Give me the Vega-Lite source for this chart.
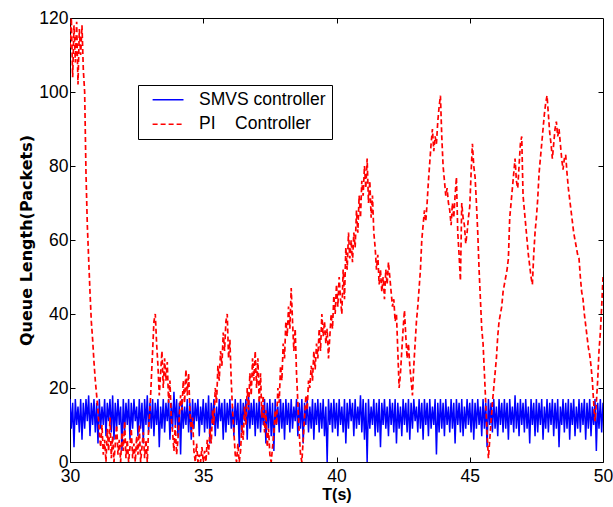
{
"$schema":"https://vega.github.io/schema/vega-lite/v6.json",
"width":533,"height":444,
"autosize":{"type":"none"},
"padding":{"left":70,"top":18,"right":10,"bottom":45},
"background":"#ffffff",
"config":{"view":{"stroke":"#000000","strokeWidth":1},"font":"Liberation Sans"},
"data":{"values":[
{"t":30,"s":17,"p":112},{"t":30.05,"s":9,"p":120},{"t":30.1,"s":16,"p":104},{"t":30.15,"s":4,"p":118},{"t":30.2,"s":17,"p":108},{"t":30.25,"s":10,"p":119},{"t":30.3,"s":15,"p":102},{"t":30.35,"s":8,"p":117},{"t":30.4,"s":17,"p":110},{"t":30.45,"s":6,"p":118},
{"t":30.5,"s":16,"p":106},{"t":30.55,"s":9,"p":100},{"t":30.6,"s":17,"p":78},{"t":30.65,"s":11,"p":64},{"t":30.7,"s":18,"p":55},{"t":30.75,"s":7,"p":46},{"t":30.8,"s":16,"p":38},{"t":30.85,"s":10,"p":33},{"t":30.9,"s":17,"p":27},{"t":30.95,"s":8,"p":22},
{"t":31,"s":16,"p":18},{"t":31.05,"s":5,"p":14},{"t":31.1,"s":17,"p":8},{"t":31.15,"s":9,"p":4},{"t":31.2,"s":15,"p":10},{"t":31.25,"s":10,"p":2},{"t":31.3,"s":17,"p":6},{"t":31.35,"s":7,"p":0},{"t":31.4,"s":16,"p":9},{"t":31.45,"s":11,"p":3},
{"t":31.5,"s":17,"p":12},{"t":31.55,"s":8,"p":1},{"t":31.6,"s":18,"p":7},{"t":31.65,"s":6,"p":0},{"t":31.7,"s":16,"p":5},{"t":31.75,"s":9,"p":10},{"t":31.8,"s":17,"p":2},{"t":31.85,"s":10,"p":6},{"t":31.9,"s":15,"p":0},{"t":31.95,"s":3,"p":8},
{"t":32,"s":17,"p":3},{"t":32.05,"s":8,"p":11},{"t":32.1,"s":16,"p":1},{"t":32.15,"s":10,"p":6},{"t":32.2,"s":17,"p":0},{"t":32.25,"s":6,"p":4},{"t":32.3,"s":16,"p":9},{"t":32.35,"s":9,"p":1},{"t":32.4,"s":17,"p":5},{"t":32.45,"s":11,"p":0},
{"t":32.5,"s":15,"p":7},{"t":32.55,"s":7,"p":2},{"t":32.6,"s":17,"p":10},{"t":32.65,"s":9,"p":0},{"t":32.7,"s":16,"p":4},{"t":32.75,"s":5,"p":8},{"t":32.8,"s":17,"p":1},{"t":32.85,"s":10,"p":6},{"t":32.9,"s":18,"p":0},{"t":32.95,"s":8,"p":9},
{"t":33,"s":16,"p":14},{"t":33.05,"s":9,"p":22},{"t":33.1,"s":17,"p":30},{"t":33.15,"s":7,"p":38},{"t":33.2,"s":16,"p":40},{"t":33.25,"s":10,"p":32},{"t":33.3,"s":17,"p":26},{"t":33.35,"s":4,"p":18},{"t":33.4,"s":15,"p":24},{"t":33.45,"s":9,"p":30},
{"t":33.5,"s":17,"p":20},{"t":33.55,"s":8,"p":28},{"t":33.6,"s":16,"p":22},{"t":33.65,"s":11,"p":27},{"t":33.7,"s":17,"p":16},{"t":33.75,"s":6,"p":22},{"t":33.8,"s":16,"p":12},{"t":33.85,"s":9,"p":8},{"t":33.9,"s":19,"p":3},{"t":33.95,"s":10,"p":10},
{"t":34,"s":17,"p":2},{"t":34.05,"s":7,"p":6},{"t":34.1,"s":16,"p":12},{"t":34.15,"s":2,"p":18},{"t":34.2,"s":17,"p":14},{"t":34.25,"s":9,"p":22},{"t":34.3,"s":15,"p":16},{"t":34.35,"s":10,"p":25},{"t":34.4,"s":17,"p":18},{"t":34.45,"s":8,"p":24},
{"t":34.5,"s":16,"p":14},{"t":34.55,"s":6,"p":8},{"t":34.6,"s":17,"p":12},{"t":34.65,"s":9,"p":3},{"t":34.7,"s":16,"p":0},{"t":34.75,"s":11,"p":5},{"t":34.8,"s":17,"p":0},{"t":34.85,"s":7,"p":2},{"t":34.9,"s":15,"p":0},{"t":34.95,"s":10,"p":4},
{"t":35,"s":17,"p":0},{"t":35.05,"s":8,"p":3},{"t":35.1,"s":16,"p":0},{"t":35.15,"s":9,"p":6},{"t":35.2,"s":18,"p":2},{"t":35.25,"s":5,"p":9},{"t":35.3,"s":16,"p":5},{"t":35.35,"s":10,"p":14},{"t":35.4,"s":17,"p":10},{"t":35.45,"s":7,"p":20},
{"t":35.5,"s":15,"p":16},{"t":35.55,"s":9,"p":26},{"t":35.6,"s":17,"p":22},{"t":35.65,"s":11,"p":30},{"t":35.7,"s":16,"p":26},{"t":35.75,"s":6,"p":35},{"t":35.8,"s":17,"p":30},{"t":35.85,"s":8,"p":38},{"t":35.9,"s":16,"p":40},{"t":35.95,"s":10,"p":28},
{"t":36,"s":17,"p":33},{"t":36.05,"s":9,"p":22},{"t":36.1,"s":15,"p":14},{"t":36.15,"s":7,"p":8},{"t":36.2,"s":17,"p":2},{"t":36.25,"s":10,"p":0},{"t":36.3,"s":16,"p":5},{"t":36.35,"s":4,"p":0},{"t":36.4,"s":17,"p":3},{"t":36.45,"s":8,"p":10},
{"t":36.5,"s":16,"p":6},{"t":36.55,"s":11,"p":15},{"t":36.6,"s":17,"p":10},{"t":36.65,"s":6,"p":20},{"t":36.7,"s":18,"p":14},{"t":36.75,"s":9,"p":24},{"t":36.8,"s":16,"p":18},{"t":36.85,"s":10,"p":28},{"t":36.9,"s":17,"p":22},{"t":36.95,"s":7,"p":30},
{"t":37,"s":16,"p":20},{"t":37.05,"s":9,"p":28},{"t":37.1,"s":17,"p":16},{"t":37.15,"s":8,"p":24},{"t":37.2,"s":15,"p":12},{"t":37.25,"s":10,"p":18},{"t":37.3,"s":17,"p":8},{"t":37.35,"s":5,"p":14},{"t":37.4,"s":16,"p":4},{"t":37.45,"s":9,"p":9},
{"t":37.5,"s":17,"p":2},{"t":37.55,"s":7,"p":0},{"t":37.6,"s":16,"p":4},{"t":37.65,"s":3,"p":8},{"t":37.7,"s":17,"p":14},{"t":37.75,"s":10,"p":10},{"t":37.8,"s":15,"p":20},{"t":37.85,"s":8,"p":16},{"t":37.9,"s":17,"p":26},{"t":37.95,"s":9,"p":22},
{"t":38,"s":16,"p":32},{"t":38.05,"s":6,"p":28},{"t":38.1,"s":17,"p":38},{"t":38.15,"s":10,"p":34},{"t":38.2,"s":16,"p":42},{"t":38.25,"s":8,"p":36},{"t":38.3,"s":17,"p":47},{"t":38.35,"s":9,"p":38},{"t":38.4,"s":15,"p":30},{"t":38.45,"s":11,"p":36},
{"t":38.5,"s":17,"p":24},{"t":38.55,"s":7,"p":16},{"t":38.6,"s":16,"p":8},{"t":38.65,"s":9,"p":2},{"t":38.7,"s":17,"p":0},{"t":38.75,"s":5,"p":6},{"t":38.8,"s":16,"p":12},{"t":38.85,"s":10,"p":18},{"t":38.9,"s":17,"p":14},{"t":38.95,"s":8,"p":22},
{"t":39,"s":15,"p":20},{"t":39.05,"s":9,"p":26},{"t":39.1,"s":17,"p":22},{"t":39.15,"s":6,"p":30},{"t":39.2,"s":16,"p":25},{"t":39.25,"s":10,"p":32},{"t":39.3,"s":17,"p":28},{"t":39.35,"s":8,"p":36},{"t":39.4,"s":16,"p":30},{"t":39.45,"s":9,"p":40},
{"t":39.5,"s":17,"p":34},{"t":39.55,"s":7,"p":38},{"t":39.6,"s":15,"p":32},{"t":39.65,"s":0,"p":36},{"t":39.7,"s":17,"p":28},{"t":39.75,"s":10,"p":34},{"t":39.8,"s":16,"p":40},{"t":39.85,"s":8,"p":36},{"t":39.9,"s":17,"p":45},{"t":39.95,"s":9,"p":40},
{"t":40,"s":16,"p":48},{"t":40.05,"s":7,"p":42},{"t":40.1,"s":17,"p":50},{"t":40.15,"s":10,"p":44},{"t":40.2,"s":15,"p":40},{"t":40.25,"s":8,"p":52},{"t":40.3,"s":17,"p":44},{"t":40.35,"s":5,"p":58},{"t":40.4,"s":16,"p":52},{"t":40.45,"s":9,"p":62},
{"t":40.5,"s":17,"p":55},{"t":40.55,"s":11,"p":60},{"t":40.6,"s":16,"p":54},{"t":40.65,"s":7,"p":62},{"t":40.7,"s":17,"p":58},{"t":40.75,"s":9,"p":68},{"t":40.8,"s":15,"p":62},{"t":40.85,"s":10,"p":72},{"t":40.9,"s":18,"p":66},{"t":40.95,"s":8,"p":76},
{"t":41,"s":17,"p":72},{"t":41.05,"s":6,"p":80},{"t":41.1,"s":16,"p":74},{"t":41.15,"s":0,"p":82},{"t":41.2,"s":17,"p":70},{"t":41.25,"s":9,"p":76},{"t":41.3,"s":15,"p":66},{"t":41.35,"s":10,"p":72},{"t":41.4,"s":17,"p":62},{"t":41.45,"s":7,"p":58},
{"t":41.5,"s":16,"p":52},{"t":41.55,"s":8,"p":56},{"t":41.6,"s":17,"p":48},{"t":41.65,"s":4,"p":52},{"t":41.7,"s":16,"p":46},{"t":41.75,"s":10,"p":50},{"t":41.8,"s":17,"p":44},{"t":41.85,"s":9,"p":52},{"t":41.9,"s":15,"p":48},{"t":41.95,"s":7,"p":54},
{"t":42,"s":17,"p":50},{"t":42.05,"s":10,"p":46},{"t":42.1,"s":16,"p":42},{"t":42.15,"s":8,"p":44},{"t":42.2,"s":17,"p":38},{"t":42.25,"s":5,"p":40},{"t":42.3,"s":16,"p":30},{"t":42.35,"s":9,"p":20},{"t":42.4,"s":15,"p":24},{"t":42.45,"s":7,"p":30},
{"t":42.5,"s":17,"p":36},{"t":42.55,"s":10,"p":41},{"t":42.6,"s":16,"p":34},{"t":42.65,"s":8,"p":28},{"t":42.7,"s":17,"p":32},{"t":42.75,"s":6,"p":26},{"t":42.8,"s":16,"p":22},{"t":42.85,"s":9,"p":18},{"t":42.9,"s":17,"p":26},{"t":42.95,"s":11,"p":32},
{"t":43,"s":15,"p":38},{"t":43.05,"s":8,"p":42},{"t":43.1,"s":17,"p":47},{"t":43.15,"s":9,"p":52},{"t":43.2,"s":16,"p":60},{"t":43.25,"s":6,"p":64},{"t":43.3,"s":17,"p":68},{"t":43.35,"s":10,"p":65},{"t":43.4,"s":16,"p":70},{"t":43.45,"s":7,"p":76},
{"t":43.5,"s":17,"p":81},{"t":43.55,"s":9,"p":86},{"t":43.6,"s":15,"p":90},{"t":43.65,"s":10,"p":84},{"t":43.7,"s":17,"p":88},{"t":43.75,"s":2,"p":86},{"t":43.8,"s":16,"p":92},{"t":43.85,"s":8,"p":96},{"t":43.9,"s":17,"p":99},{"t":43.95,"s":9,"p":88},
{"t":44,"s":16,"p":80},{"t":44.05,"s":7,"p":76},{"t":44.1,"s":17,"p":72},{"t":44.15,"s":10,"p":74},{"t":44.2,"s":15,"p":70},{"t":44.25,"s":8,"p":68},{"t":44.3,"s":17,"p":64},{"t":44.35,"s":9,"p":70},{"t":44.4,"s":16,"p":66},{"t":44.45,"s":5,"p":72},
{"t":44.5,"s":17,"p":77},{"t":44.55,"s":10,"p":62},{"t":44.6,"s":16,"p":56},{"t":44.65,"s":8,"p":49},{"t":44.7,"s":17,"p":70},{"t":44.75,"s":7,"p":66},{"t":44.8,"s":15,"p":64},{"t":44.85,"s":9,"p":59},{"t":44.9,"s":17,"p":62},{"t":44.95,"s":10,"p":66},
{"t":45,"s":16,"p":69},{"t":45.05,"s":8,"p":78},{"t":45.1,"s":17,"p":86},{"t":45.15,"s":6,"p":80},{"t":45.2,"s":16,"p":77},{"t":45.25,"s":9,"p":70},{"t":45.3,"s":17,"p":62},{"t":45.35,"s":10,"p":52},{"t":45.4,"s":15,"p":44},{"t":45.45,"s":7,"p":36},
{"t":45.5,"s":17,"p":32},{"t":45.55,"s":9,"p":24},{"t":45.6,"s":16,"p":16},{"t":45.65,"s":4,"p":8},{"t":45.7,"s":17,"p":1},{"t":45.75,"s":10,"p":6},{"t":45.8,"s":16,"p":11},{"t":45.85,"s":8,"p":16},{"t":45.9,"s":17,"p":20},{"t":45.95,"s":9,"p":24},
{"t":46,"s":15,"p":28},{"t":46.05,"s":7,"p":34},{"t":46.1,"s":17,"p":38},{"t":46.15,"s":10,"p":40},{"t":46.2,"s":16,"p":42},{"t":46.25,"s":8,"p":46},{"t":46.3,"s":17,"p":48},{"t":46.35,"s":9,"p":50},{"t":46.4,"s":16,"p":52},{"t":46.45,"s":6,"p":55},
{"t":46.5,"s":17,"p":66},{"t":46.55,"s":10,"p":70},{"t":46.6,"s":15,"p":74},{"t":46.65,"s":8,"p":78},{"t":46.7,"s":18,"p":82},{"t":46.75,"s":9,"p":76},{"t":46.8,"s":16,"p":74},{"t":46.85,"s":7,"p":80},{"t":46.9,"s":17,"p":86},{"t":46.95,"s":10,"p":88},
{"t":47,"s":16,"p":72},{"t":47.05,"s":8,"p":68},{"t":47.1,"s":17,"p":64},{"t":47.15,"s":9,"p":60},{"t":47.2,"s":15,"p":56},{"t":47.25,"s":5,"p":53},{"t":47.3,"s":17,"p":50},{"t":47.35,"s":10,"p":48},{"t":47.4,"s":16,"p":56},{"t":47.45,"s":7,"p":62},
{"t":47.5,"s":17,"p":66},{"t":47.55,"s":8,"p":71},{"t":47.6,"s":16,"p":78},{"t":47.65,"s":10,"p":82},{"t":47.7,"s":17,"p":86},{"t":47.75,"s":6,"p":90},{"t":47.8,"s":15,"p":94},{"t":47.85,"s":9,"p":97},{"t":47.9,"s":17,"p":99},{"t":47.95,"s":8,"p":94},
{"t":48,"s":16,"p":89},{"t":48.05,"s":10,"p":86},{"t":48.1,"s":17,"p":82},{"t":48.15,"s":7,"p":86},{"t":48.2,"s":16,"p":90},{"t":48.25,"s":9,"p":92},{"t":48.3,"s":17,"p":88},{"t":48.35,"s":4,"p":90},{"t":48.4,"s":15,"p":86},{"t":48.45,"s":10,"p":82},
{"t":48.5,"s":17,"p":79},{"t":48.55,"s":8,"p":82},{"t":48.6,"s":16,"p":83},{"t":48.65,"s":9,"p":78},{"t":48.7,"s":17,"p":74},{"t":48.75,"s":6,"p":71},{"t":48.8,"s":16,"p":68},{"t":48.85,"s":10,"p":65},{"t":48.9,"s":17,"p":62},{"t":48.95,"s":7,"p":60},
{"t":49,"s":15,"p":58},{"t":49.05,"s":9,"p":56},{"t":49.1,"s":17,"p":55},{"t":49.15,"s":8,"p":50},{"t":49.2,"s":16,"p":46},{"t":49.25,"s":10,"p":44},{"t":49.3,"s":17,"p":40},{"t":49.35,"s":6,"p":37},{"t":49.4,"s":16,"p":34},{"t":49.45,"s":9,"p":31},
{"t":49.5,"s":17,"p":29},{"t":49.55,"s":7,"p":26},{"t":49.6,"s":15,"p":22},{"t":49.65,"s":10,"p":16},{"t":49.7,"s":17,"p":11},{"t":49.75,"s":3,"p":16},{"t":49.8,"s":16,"p":22},{"t":49.85,"s":9,"p":30},{"t":49.9,"s":17,"p":35},{"t":49.95,"s":8,"p":42},
{"t":50,"s":16,"p":50}
]},
"resolve":{"axis":{"x":"independent","y":"independent"}},
"layer":[
{"mark":{"type":"line","strokeWidth":1.5,"clip":true},
 "encoding":{
  "x":{"field":"t","type":"quantitative","scale":{"domain":[30,50],"nice":false,"zero":false},
       "axis":{"values":[30,35,40,45,50],"tickSize":-5,"tickColor":"#000","domain":false,"grid":false,"labelFontSize":17.5,"labelColor":"#000","labelPadding":10,"labelFlush":false,"labelOverlap":false,"title":"T(s)","titleFontSize":16,"titleFontWeight":"bold","titleColor":"#000","titlePadding":2}},
  "y":{"field":"s","type":"quantitative","scale":{"domain":[0,120],"nice":false},
       "axis":{"values":[0,20,40,60,80,100,120],"tickSize":-5,"tickColor":"#000","domain":false,"grid":false,"labelFontSize":17.5,"labelColor":"#000","labelPadding":7,"labelFlush":false,"labelOverlap":false,"title":"Queue Length(Packets)","titleFont":"DejaVu Sans","titleFontSize":16,"titleFontWeight":"bold","titleColor":"#000","titlePadding":4}},
  "color":{"datum":"SMVS controller","scale":{"domain":["SMVS controller","PI\u00a0\u00a0\u00a0\u00a0Controller"],"range":["#0000ff","#ff0000"]},
           "legend":{"title":null,"orient":"none","legendX":68,"legendY":67,"strokeColor":"#000","fillColor":"#fff","padding":6,"symbolOffset":15.3,"symbolType":"M-3,0H3","symbolSize":106,"symbolStrokeWidth":1.3,"labelFontSize":17.5,"labelColor":"#000","labelOffset":22.3,"rowPadding":5.5}},
  "strokeDash":{"datum":"SMVS controller","scale":{"domain":["SMVS controller","PI\u00a0\u00a0\u00a0\u00a0Controller"],"range":[[1,0],[5,3]]},
           "legend":{"title":null,"orient":"none","legendX":68,"legendY":67,"strokeColor":"#000","fillColor":"#fff","padding":6,"symbolOffset":15.3,"symbolType":"M-3,0H3","symbolSize":106,"symbolStrokeWidth":1.3,"labelFontSize":17.5,"labelColor":"#000","labelOffset":22.3,"rowPadding":5.5}}
 }},
{"mark":{"type":"line","strokeWidth":1.7,"clip":true},
 "encoding":{
  "x":{"field":"t","type":"quantitative","axis":null},
  "y":{"field":"p","type":"quantitative","axis":null},
  "color":{"datum":"PI\u00a0\u00a0\u00a0\u00a0Controller"},
  "strokeDash":{"datum":"PI\u00a0\u00a0\u00a0\u00a0Controller"}
 }},
{"mark":{"type":"point","opacity":0},
 "encoding":{
  "x":{"field":"t","type":"quantitative","axis":{"orient":"top","values":[35,40,45],"labels":false,"title":null,"domain":false,"grid":false,"tickSize":-5,"tickColor":"#000"}},
  "y":{"field":"p","type":"quantitative","axis":{"orient":"right","values":[20,40,60,80,100],"labels":false,"title":null,"domain":false,"grid":false,"tickSize":-5,"tickColor":"#000"}}
 }}
]
}
